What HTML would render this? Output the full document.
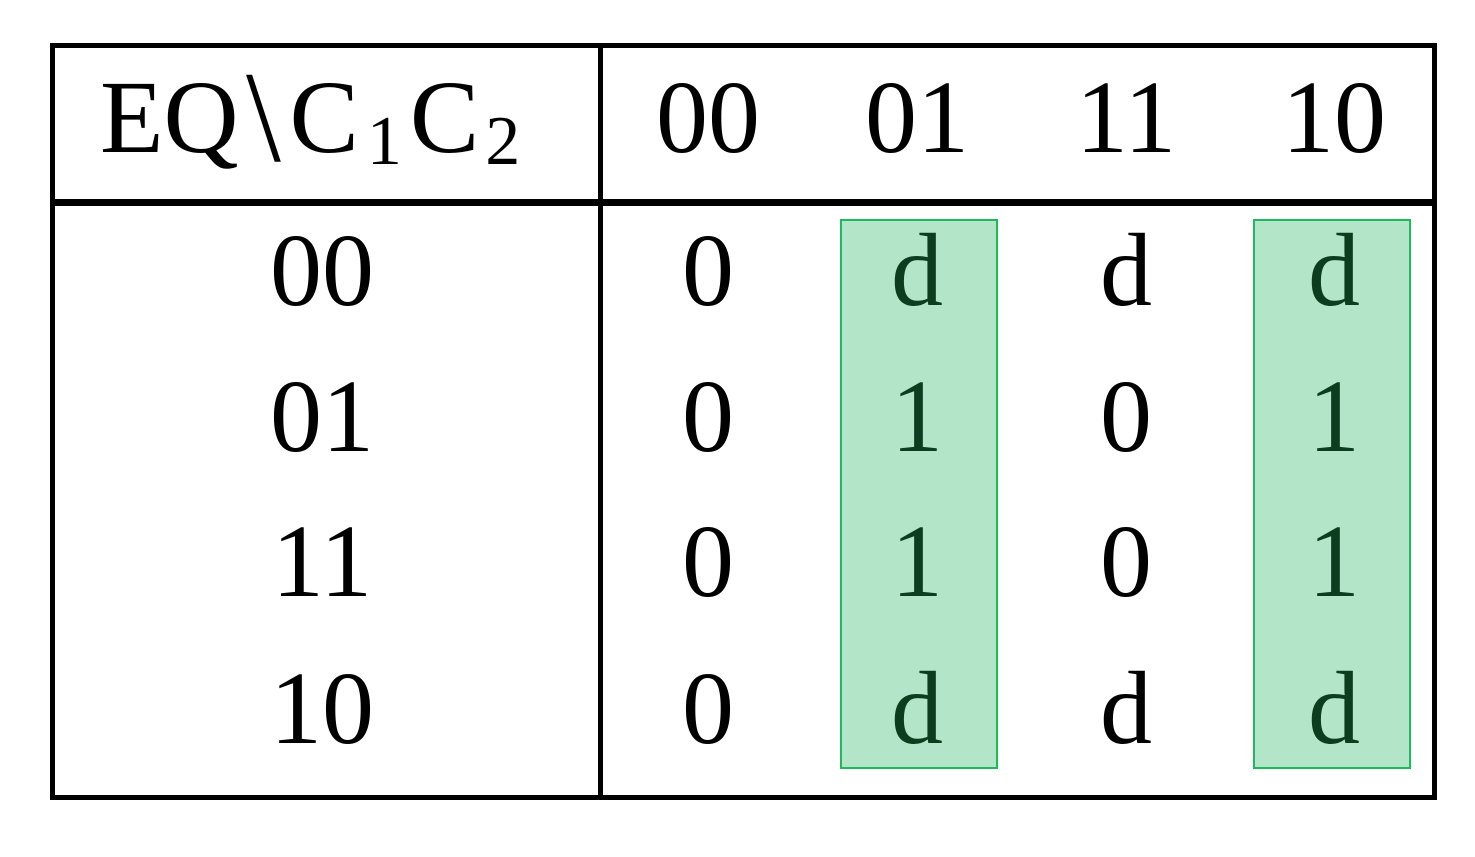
<!DOCTYPE html>
<html><head><meta charset="utf-8"><style>
html,body{margin:0;padding:0;background:#fff;width:1475px;height:857px;overflow:hidden}
.a{position:absolute}
.t{position:absolute;font-family:"Liberation Serif",serif;font-size:104px;line-height:1;color:#000;width:200px;text-align:center;white-space:nowrap}
.g{color:#0b3d1e}
.box{position:absolute;background:#b3e6c9;border:2px solid #1fb85a;box-sizing:border-box}
</style></head><body>
<div class="box" style="left:840px;top:219px;width:158px;height:550px"></div>
<div class="box" style="left:1253px;top:219px;width:158px;height:550px"></div>
<div class="a" style="left:50px;top:43px;width:1387px;height:757px;border:5px solid #000;box-sizing:border-box"></div>
<div class="a" style="left:598px;top:45px;width:5px;height:753px;background:#000"></div>
<div class="a" style="left:52px;top:199px;width:1383px;height:7px;background:#000"></div>

<div class="t" style="left:100px;top:66px;width:470px;text-align:left">EQ<span style="display:inline-block;width:10px"></span><span style="display:inline-block;transform:scale(1.2,1.25)">\</span><span style="display:inline-block;width:12px"></span>C<span style="font-size:70px;position:relative;top:12px;margin-left:8px;margin-right:8px">1</span>C<span style="font-size:70px;position:relative;top:12px;margin-left:6px">2</span></div>

<div class="t" style="left:608px;top:66px">00</div>
<div class="t" style="left:817px;top:66px">01</div>
<div class="t" style="left:1026px;top:66px">11</div>
<div class="t" style="left:1234px;top:66px">10</div>

<div class="t" style="left:222px;top:219px">00</div>
<div class="t" style="left:222px;top:365px">01</div>
<div class="t" style="left:222px;top:510px">11</div>
<div class="t" style="left:222px;top:657px">10</div>

<div class="t" style="left:608px;top:219px">0</div>
<div class="t" style="left:608px;top:365px">0</div>
<div class="t" style="left:608px;top:510px">0</div>
<div class="t" style="left:608px;top:657px">0</div>

<div class="t g" style="left:817px;top:219px">d</div>
<div class="t g" style="left:817px;top:365px">1</div>
<div class="t g" style="left:817px;top:510px">1</div>
<div class="t g" style="left:817px;top:657px">d</div>

<div class="t" style="left:1026px;top:219px">d</div>
<div class="t" style="left:1026px;top:365px">0</div>
<div class="t" style="left:1026px;top:510px">0</div>
<div class="t" style="left:1026px;top:657px">d</div>

<div class="t g" style="left:1234px;top:219px">d</div>
<div class="t g" style="left:1234px;top:365px">1</div>
<div class="t g" style="left:1234px;top:510px">1</div>
<div class="t g" style="left:1234px;top:657px">d</div>
</body></html>
